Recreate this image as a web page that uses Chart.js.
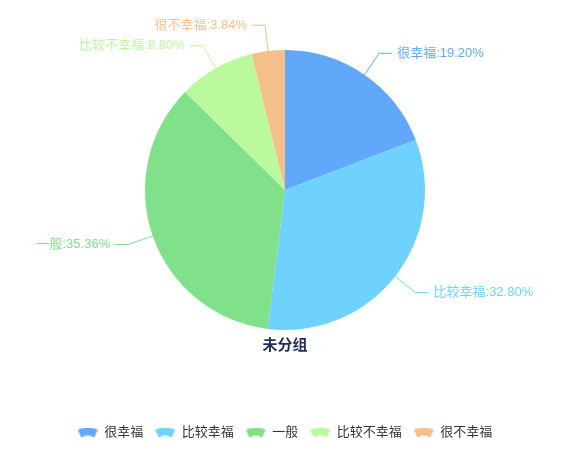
<!DOCTYPE html>
<html lang="zh">
<head>
  <meta charset="UTF-8">
  <title>未分组</title>
  <script src="https://cdn.jsdelivr.net/npm/chart.js"></script>
  <style>
    body {
      margin: 0;
      background: #fff;
    }
    .box {
      width: 571px;
      height: 466px;
    }
  </style>
</head>
<body>

<div class="box">
  <canvas id="pie"></canvas>
</div>

<script>
  // données
  const categories = ['很幸福', '比较幸福', '一般', '比较不幸福', '很不幸福'];
  const percents = [19.20, 32.80, 35.36, 8.80, 3.84];
  const colors = ['#62a8fa', '#6fd2fc', '#80e18a', '#bbf99f', '#f5bf8c'];
  const groupTitle = '未分组';

  const fontFamily = "'Liberation Sans', 'Noto Sans CJK SC', sans-serif";

  // petite icône en éventail pour la légende
  function fanIcon(color) {
    const c = document.createElement('canvas');
    c.width = 20;
    c.height = 9;
    const g = c.getContext('2d');
    const cx = 10, cy = 24, rOut = 24, rIn = 16;
    const a0 = -Math.PI / 2 - 0.43, a1 = -Math.PI / 2 + 0.43;
    g.fillStyle = color;
    g.beginPath();
    g.arc(cx, cy, rOut, a0, a1);
    g.arc(cx, cy, rIn, a1, a0, true);
    g.closePath();
    g.fill();
    return c;
  }
  const icons = colors.map(fanIcon);

  // étiquettes extérieures avec traits de rappel
  const outerLabels = {
    id: 'outerLabels',
    afterDatasetsDraw(chart) {
      const ctx = chart.ctx;
      const arcs = chart.getDatasetMeta(0).data;
      ctx.save();
      ctx.font = '13px ' + fontFamily;
      ctx.textBaseline = 'middle';
      ctx.lineWidth = 1;
      arcs.forEach((arc, i) => {
        const mid = (arc.startAngle + arc.endAngle) / 2;
        const r = arc.outerRadius;
        const cos = Math.cos(mid), sin = Math.sin(mid);
        const right = cos >= 0;
        const x0 = arc.x + r * cos, y0 = arc.y + r * sin;
        const x1 = arc.x + (r + 26) * cos, y1 = arc.y + (r + 26) * sin;
        const x2 = x1 + (right ? 13 : -13);
        ctx.strokeStyle = colors[i];
        ctx.beginPath();
        ctx.moveTo(x0, y0);
        ctx.lineTo(x1, y1);
        ctx.lineTo(x2, y1);
        ctx.stroke();
        ctx.fillStyle = colors[i];
        ctx.textAlign = right ? 'left' : 'right';
        const txt = categories[i] + ':' + percents[i].toFixed(2) + '%';
        ctx.fillText(txt, x2 + (right ? 5 : -5), y1);
      });
      ctx.restore();
    }
  };

  const ctx = document.getElementById('pie').getContext('2d');
  new Chart(ctx, {
    type: 'pie',
    data: {
      labels: categories,
      datasets: [{
        data: percents,
        backgroundColor: colors,
        borderWidth: 0,
        hoverOffset: 0
      }]
    },
    options: {
      responsive: true,
      maintainAspectRatio: false,
      animation: false,
      layout: {
        padding: { top: 50, bottom: 17.5, left: 0, right: 1 }
      },
      plugins: {
        tooltip: { enabled: false },
        title: {
          display: true,
          text: groupTitle,
          position: 'bottom',
          weight: 500,
          color: '#1f2d5a',
          font: { size: 15, weight: 'bold', family: fontFamily },
          padding: { top: 7, bottom: 58.5 }
        },
        legend: {
          position: 'bottom',
          labels: {
            usePointStyle: true,
            pointStyleWidth: 20,
            padding: 12,
            color: '#333',
            font: { size: 13, family: fontFamily },
            generateLabels(chart) {
              const items = Chart.overrides.doughnut.plugins.legend.labels.generateLabels(chart);
              items.forEach((it, i) => { it.pointStyle = icons[i]; });
              return items;
            }
          }
        }
      }
    },
    plugins: [outerLabels]
  });
</script>

</body>
</html>
